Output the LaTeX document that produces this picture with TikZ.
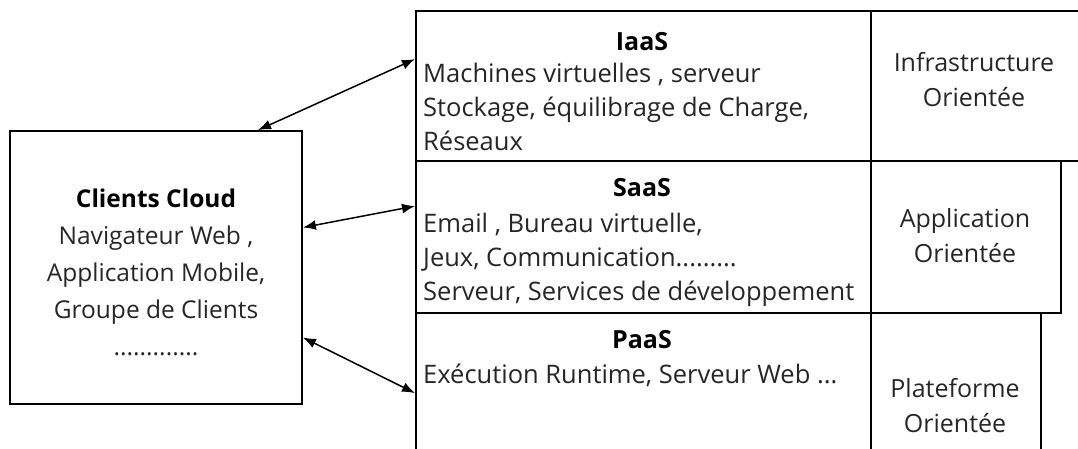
\documentclass[tikz,border=0pt]{standalone}
\usepackage{fontspec}
\setmainfont{Open Sans}
\usetikzlibrary{arrows.meta}
\tikzset{
  cell/.style={draw, line width=2.2pt, anchor=north west, inner sep=0pt},
  clientbox/.style={draw, line width=1.8pt, minimum width=292pt, minimum height=273pt, inner sep=0pt},
  ttl/.style={font=\bfseries\fontsize{25}{34}\selectfont, text=black},
  body/.style={font=\fontsize{25.5}{34}\selectfont, text=black!85, align=left, anchor=west, inner sep=0pt},
  side/.style={font=\fontsize{25}{35}\selectfont, text=black!85, align=center, inner sep=0pt},
  arr/.style={{Latex[length=13pt,width=10pt]}-{Latex[length=13pt,width=10pt]}, line width=1.5pt}
}
\begin{document}
\begin{tikzpicture}[x=1pt,y=-1pt]
\useasboundingbox (0,0) rectangle (1078,448);
\clip (0,0) rectangle (1078,448);
% client box
\node[clientbox] (client) at (156,267.5) {};
\node[font=\fontsize{24.5}{37}\selectfont, text=black!85, align=center] (clienttxt) at (156,272)
  {\textbf{\textcolor{black}{Clients Cloud}}\\Navigateur Web ,\\Application Mobile,\\Groupe de Clients\\.............};
% table cells
\node[cell, minimum width=455pt, minimum height=150pt] (iaas) at (415,10) {};
\node[cell, minimum width=215pt, minimum height=150pt] (iaasr) at (870,10) {};
\node[cell, minimum width=455pt, minimum height=152pt] (saas) at (415,160) {};
\node[cell, minimum width=190pt, minimum height=152pt] (saasr) at (870,160) {};
\node[cell, minimum width=455pt, minimum height=150pt] (paas) at (415,312) {};
\node[cell, minimum width=170pt, minimum height=150pt] (paasr) at (870,312) {};
% cell texts
\node[ttl] (iaast) at (642,42) {IaaS};
\node[body] (iaasb) at (423,107) {Machines virtuelles , serveur\\Stockage, équilibrage de Charge,\\Réseaux};
\node[ttl] (saast) at (642,188) {SaaS};
\node[body] (saasb) at (423,260) {Email , Bureau virtuelle,\\Jeux, Communication.........\\Serveur, Services de développement};
\node[ttl] (paast) at (642,340) {PaaS};
\node[body] (paasb) at (423,375) {Exécution Runtime, Serveur Web ...};
\node[side] (iaass) at (974,80) {Infrastructure\\Orientée};
\node[side] (saass) at (965,236) {Application\\Orientée};
\node[side] (paass) at (955,406) {Plateforme\\Orientée};
% arrows
\draw[arr] ([xshift=102pt]client.north) -- ([yshift=27pt]iaas.west);
\draw[arr] ([yshift=40pt]client.east) -- ([yshift=31pt]saas.west);
\draw[arr] ([yshift=-70pt]client.east) -- ([yshift=-5pt]paas.west);
\end{tikzpicture}
\end{document}
